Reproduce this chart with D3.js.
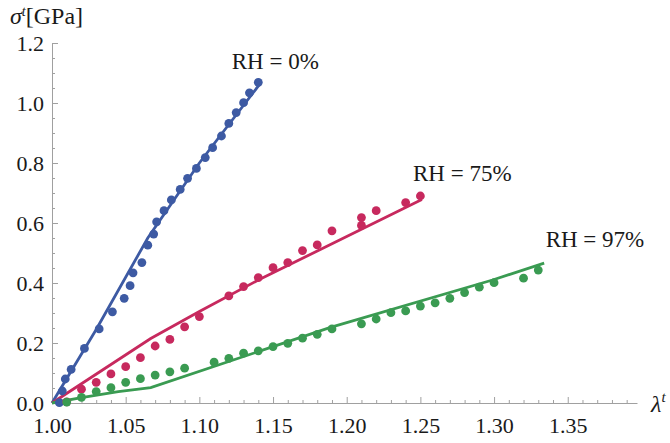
<!DOCTYPE html>
<html>
<head>
<meta charset="utf-8">
<script src="https://cdn.jsdelivr.net/npm/d3@7"></script>
<style>
  body { margin: 0; background: #fff; }
  svg { display: block; }
  .axis path, .axis line { stroke: #a0a0a0; }
  .axis text { font-family: "Liberation Serif", "DejaVu Serif", serif; font-size: 22px; fill: #1a1a1a; }
  .label { font-family: "Liberation Serif", "DejaVu Serif", serif; fill: #1a1a1a; }
</style>
</head>
<body>
<svg id="chart" width="670" height="443"></svg>
<script>
var rh0Points = [
  [1.005, 0.001], [1.007, 0.040], [1.009, 0.080], [1.013, 0.112], [1.022, 0.182],
  [1.032, 0.247], [1.041, 0.304], [1.049, 0.349], [1.053, 0.391], [1.055, 0.434],
  [1.061, 0.468], [1.065, 0.526], [1.069, 0.563], [1.071, 0.604], [1.076, 0.641],
  [1.081, 0.677], [1.087, 0.712], [1.092, 0.749], [1.098, 0.782], [1.104, 0.818],
  [1.109, 0.851], [1.115, 0.890], [1.120, 0.932], [1.125, 0.968], [1.130, 1.001],
  [1.134, 1.034], [1.140, 1.069]
];
var rh75Points = [
  [1.010, 0.004], [1.020, 0.046], [1.030, 0.069], [1.040, 0.097], [1.050, 0.121],
  [1.060, 0.151], [1.070, 0.190], [1.080, 0.212], [1.090, 0.254], [1.100, 0.288],
  [1.120, 0.357], [1.130, 0.388], [1.140, 0.418], [1.150, 0.451], [1.160, 0.468],
  [1.170, 0.508], [1.180, 0.527], [1.190, 0.574], [1.210, 0.592], [1.210, 0.618],
  [1.220, 0.641], [1.240, 0.668], [1.250, 0.690]
];
var rh97Points = [
  [1.010, 0.003], [1.020, 0.019], [1.030, 0.038], [1.040, 0.051], [1.050, 0.069],
  [1.060, 0.081], [1.070, 0.093], [1.080, 0.104], [1.090, 0.116], [1.110, 0.136],
  [1.120, 0.149], [1.130, 0.166], [1.140, 0.174], [1.150, 0.188], [1.160, 0.199],
  [1.170, 0.216], [1.180, 0.229], [1.190, 0.247], [1.210, 0.264], [1.220, 0.280],
  [1.230, 0.301], [1.240, 0.307], [1.250, 0.323], [1.260, 0.334], [1.270, 0.349],
  [1.280, 0.368], [1.290, 0.386], [1.300, 0.401], [1.320, 0.416], [1.330, 0.443]
];

/* model curves */
var rh0Line = [[1.000, 0.000], [1.030, 0.245], [1.065, 0.550], [1.100, 0.800], [1.141, 1.063]];
var rh75Line = [[1.000, 0.000], [1.067, 0.215], [1.100, 0.305], [1.140, 0.410], [1.251, 0.678]];
var rh97Line = [[1.000, 0.000], [1.020, 0.018], [1.045, 0.038], [1.067, 0.051], [1.189, 0.252], [1.299, 0.410], [1.334, 0.466]];

var seriesNames = ["RH = 0%", "RH = 75%", "RH = 97%"];
var seriesColors = ["#3d5aa3", "#c7295e", "#3a9b52"];

var xTicks = [1.00, 1.05, 1.10, 1.15, 1.20, 1.25, 1.30, 1.35];
var yTicks = [0.0, 0.2, 0.4, 0.6, 0.8, 1.0, 1.2];

function init() {
    var svg = d3.select("#chart");

    var x = d3.scaleLinear().domain([1.0, 1.397]).range([52, 637]);
    var y = d3.scaleLinear().domain([0, 1.2]).range([403, 43]);

    var xMinor = d3.range(1.00, 1.395, 0.01).filter(function (v) {
        return Math.abs(Math.round(v * 20) - v * 20) > 1e-6;
    });
    var yMinor = d3.range(0.05, 1.2, 0.05).filter(function (v) {
        return Math.abs(Math.round(v * 5) - v * 5) > 1e-6;
    });

    /* axes: ticks point inward */
    svg.append("g")
        .attr("class", "axis")
        .attr("transform", "translate(0," + y(0) + ")")
        .call(d3.axisBottom(x).tickValues(xMinor).tickSize(-3).tickFormat(""))
        .select(".domain").remove();
    svg.append("g")
        .attr("class", "axis")
        .attr("transform", "translate(0," + y(0) + ")")
        .call(d3.axisBottom(x).tickValues(xTicks).tickSizeInner(-6).tickSizeOuter(0)
            .tickPadding(14).tickFormat(d3.format(".2f")));

    svg.append("g")
        .attr("class", "axis")
        .attr("transform", "translate(" + x(1.0) + ",0)")
        .call(d3.axisLeft(y).tickValues(yMinor).tickSize(-3).tickFormat(""))
        .select(".domain").remove();
    svg.append("g")
        .attr("class", "axis")
        .attr("transform", "translate(" + x(1.0) + ",0)")
        .call(d3.axisLeft(y).tickValues(yTicks).tickSizeInner(-6).tickSizeOuter(0)
            .tickPadding(8).tickFormat(d3.format(".1f")));

    var line = d3.line()
        .x(function (d) { return x(d[0]); })
        .y(function (d) { return y(d[1]); });

    var lines = [rh0Line, rh75Line, rh97Line];
    var points = [rh0Points, rh75Points, rh97Points];

    lines.forEach(function (data, i) {
        svg.append("path")
            .attr("d", line(data))
            .attr("fill", "none")
            .attr("stroke", seriesColors[i])
            .attr("stroke-width", 2.8);
    });

    points.forEach(function (data, i) {
        svg.append("g").selectAll("circle")
            .data(data).enter()
            .append("circle")
            .attr("cx", function (d) { return x(d[0]); })
            .attr("cy", function (d) { return y(d[1]); })
            .attr("r", 4.4)
            .attr("fill", seriesColors[i]);
    });

    /* series labels */
    var labelPos = [[1.122, 1.115], [1.245, 0.74], [1.335, 0.52]];
    seriesNames.forEach(function (name, i) {
        svg.append("text")
            .attr("class", "label")
            .attr("x", x(labelPos[i][0]))
            .attr("y", y(labelPos[i][1]))
            .style("font-size", "23px")
            .text(name);
    });

    /* axis titles */
    var yTitle = svg.append("text").attr("class", "label")
        .attr("x", 10).attr("y", 24).style("font-size", "24px");
    yTitle.append("tspan").style("font-style", "italic").text("σ");
    yTitle.append("tspan").attr("dy", -8).style("font-size", "14px").style("font-style", "italic").text("t");
    yTitle.append("tspan").attr("dy", 8).text("[GPa]");

    var xTitle = svg.append("text").attr("class", "label")
        .attr("x", 651).attr("y", 412).style("font-size", "24px");
    xTitle.append("tspan").style("font-style", "italic").text("λ");
    xTitle.append("tspan").attr("dy", -10).style("font-size", "15px").style("font-style", "italic").text("t");
}

init();
</script>
</body>
</html>
